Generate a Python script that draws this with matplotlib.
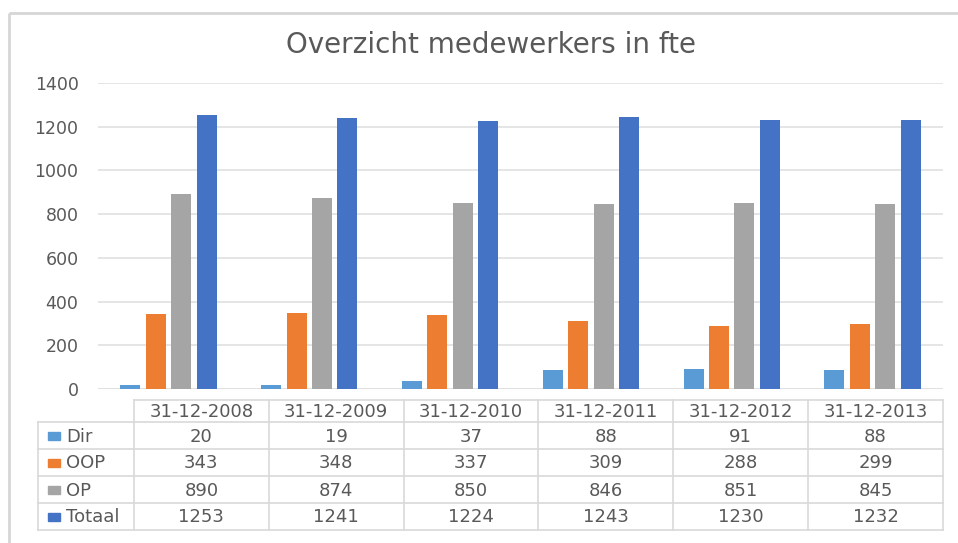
import matplotlib
matplotlib.use("Agg")
import matplotlib.pyplot as plt
import numpy as np

categories = ["31-12-2008", "31-12-2009", "31-12-2010", "31-12-2011", "31-12-2012", "31-12-2013"]
series_names = ["Dir", "OOP", "OP", "Totaal"]
dir_vals = [20, 19, 37, 88, 91, 88]
oop_vals = [343, 348, 337, 309, 288, 299]
op_vals = [890, 874, 850, 846, 851, 845]
totaal_vals = [1253, 1241, 1224, 1243, 1230, 1232]
yticks = [0, 200, 400, 600, 800, 1000, 1200, 1400]
title = "Overzicht medewerkers in fte"

colors = ["#5B9BD5", "#ED7D31", "#A5A5A5", "#4472C4"]
series = [dir_vals, oop_vals, op_vals, totaal_vals]
txt = "#595959"
grid = "#E0E0E0"

W, H = 958, 543
fig = plt.figure(figsize=(W / 100, H / 100), dpi=100)
plt.rcParams['font.family'] = ['DejaVu Sans']

# background overlay axes in pixel coordinates (frame + table)
bg = fig.add_axes([0, 0, 1, 1])
bg.set_xlim(0, W)
bg.set_ylim(H, 0)
bg.axis("off")
bg.plot([9, 9], [13, H], color="#D6D6D6", lw=2, solid_capstyle="butt")
bg.plot([9, W], [13, 13], color="#D6D6D6", lw=2, solid_capstyle="butt")

# main chart axes
px_l, px_r, px_top, px_bot = 98, 943, 83, 389
ax = fig.add_axes([px_l / W, 1 - px_bot / H, (px_r - px_l) / W, (px_bot - px_top) / H])
ax.set_facecolor("none")
x = np.arange(len(categories))
step = 0.181
width = 0.142
for k, (vals, c) in enumerate(zip(series, colors)):
    ax.bar(x + (k - 1.5) * step, vals, width=width, color=c, zorder=3)
ax.set_xlim(-0.5, len(categories) - 0.5)
ax.set_ylim(0, 1400)
ax.set_yticks(yticks)
ax.set_yticklabels([str(v) for v in yticks])
ax.set_xticks([])
ax.tick_params(axis="y", length=0, pad=14, labelsize=12.5, labelcolor=txt)
ax.yaxis.grid(True, color=grid, lw=1.2, zorder=0)
for s in ax.spines.values():
    s.set_visible(False)
ax.axhline(0, color=grid, lw=1.2, zorder=1)

fig.text(491 / W, 1 - 45 / H, title, ha="center", va="center", fontsize=20, color=txt)

# data table
col_left = 134
col_w = (943 - 134) / len(categories)
lab_left = 38
row_tops = [400, 422, 449, 476, 503, 530]
lc = "#D9D9D9"
bg.plot([col_left, 943], [row_tops[0], row_tops[0]], color=lc, lw=1.2)
for yt in row_tops[1:]:
    bg.plot([lab_left, 943], [yt, yt], color=lc, lw=1.2)
bg.plot([lab_left, lab_left], [row_tops[1], row_tops[-1]], color=lc, lw=1.2)
for j in range(len(categories) + 1):
    xx = col_left + j * col_w
    bg.plot([xx, xx], [row_tops[0], row_tops[-1]], color=lc, lw=1.2)
for j, cat in enumerate(categories):
    bg.text(col_left + (j + 0.5) * col_w, (row_tops[0] + row_tops[1]) / 2 + 1, cat,
            ha="center", va="center", fontsize=13, color=txt)
for i, (name, vals, c) in enumerate(zip(series_names, series, colors)):
    yc = (row_tops[i + 1] + row_tops[i + 2]) / 2 + 1
    bg.add_patch(plt.Rectangle((48, yc - 4.5), 12, 8, color=c))
    bg.text(66, yc, name, ha="left", va="center", fontsize=13, color=txt)
    for j, v in enumerate(vals):
        bg.text(col_left + (j + 0.5) * col_w, yc, str(v), ha="center", va="center",
                fontsize=13, color=txt)

fig.savefig("out.png", dpi=100)
